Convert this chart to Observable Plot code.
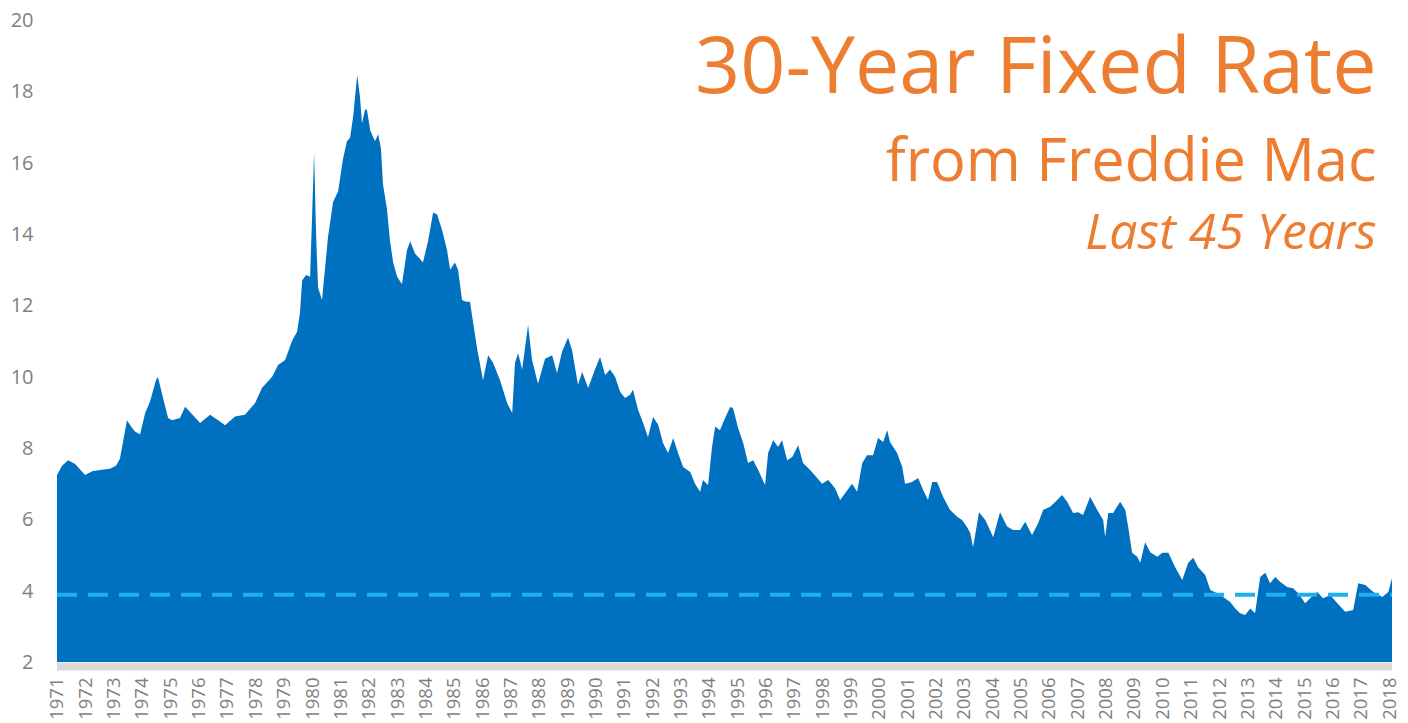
<!DOCTYPE html>
<html>
<head>
<meta charset="utf-8">
<script src="https://cdn.jsdelivr.net/npm/d3@7"></script>
<script src="https://cdn.jsdelivr.net/npm/@observablehq/plot@0.6"></script>
<style>
  html, body { margin: 0; padding: 0; background: #ffffff; }
  #chart svg { display: block; }
</style>
</head>
<body>
<div id="chart"></div>
<script>
// Axis positions in years (label year Y sits at position Y)
const years = [
  1971.00, 1971.18, 1971.39, 1971.64, 1971.99, 1972.24, 1972.52, 1972.87, 1973.08, 1973.22,
  1973.47, 1973.61, 1973.75, 1973.93, 1974.11, 1974.28, 1974.49, 1974.56, 1974.71, 1974.92,
  1975.06, 1975.34, 1975.52, 1975.80, 1976.05, 1976.40, 1976.75, 1976.93, 1977.28, 1977.63,
  1977.99, 1978.23, 1978.59, 1978.80, 1979.05, 1979.29, 1979.47, 1979.57, 1979.65, 1979.79,
  1979.93, 1980.00, 1980.07, 1980.14, 1980.21, 1980.35, 1980.56, 1980.74, 1980.92, 1981.09,
  1981.23, 1981.34, 1981.45, 1981.59, 1981.69, 1981.76, 1981.87, 1981.94, 1982.05, 1982.22,
  1982.33, 1982.43, 1982.50, 1982.64, 1982.75, 1982.86, 1983.00, 1983.17, 1983.35, 1983.46,
  1983.63, 1983.81, 1983.91, 1984.09, 1984.27, 1984.41, 1984.59, 1984.76, 1984.87, 1985.04,
  1985.15, 1985.29, 1985.43, 1985.57, 1985.82, 1986.03, 1986.21, 1986.38, 1986.63, 1986.88,
  1987.06, 1987.16, 1987.27, 1987.41, 1987.62, 1987.76, 1987.97, 1988.22, 1988.47, 1988.64,
  1988.82, 1989.03, 1989.17, 1989.38, 1989.53, 1989.74, 1989.98, 1990.16, 1990.34, 1990.51,
  1990.69, 1990.87, 1991.04, 1991.22, 1991.32, 1991.50, 1991.68, 1991.85, 1992.03, 1992.21,
  1992.38, 1992.56, 1992.74, 1992.91, 1993.09, 1993.34, 1993.51, 1993.69, 1993.79, 1993.97,
  1994.11, 1994.22, 1994.39, 1994.57, 1994.75, 1994.85, 1995.03, 1995.21, 1995.38, 1995.56,
  1995.74, 1995.98, 1996.09, 1996.27, 1996.44, 1996.58, 1996.76, 1996.94, 1997.15, 1997.32,
  1997.57, 1997.82, 1997.99, 1998.21, 1998.45, 1998.63, 1998.81, 1999.05, 1999.23, 1999.41,
  1999.58, 1999.79, 1999.97, 2000.15, 2000.29, 2000.39, 2000.64, 2000.82, 2000.92, 2001.17,
  2001.38, 2001.56, 2001.73, 2001.88, 2002.05, 2002.26, 2002.51, 2002.76, 2002.93, 2003.11,
  2003.22, 2003.32, 2003.53, 2003.75, 2004.03, 2004.27, 2004.52, 2004.73, 2004.98, 2005.16,
  2005.40, 2005.62, 2005.79, 2006.04, 2006.29, 2006.46, 2006.64, 2006.85, 2007.03, 2007.20,
  2007.45, 2007.70, 2007.91, 2007.98, 2008.09, 2008.26, 2008.51, 2008.69, 2008.79, 2008.93,
  2009.11, 2009.22, 2009.39, 2009.57, 2009.82, 2010.00, 2010.21, 2010.45, 2010.70, 2010.91,
  2011.09, 2011.26, 2011.51, 2011.69, 2011.93, 2012.14, 2012.39, 2012.57, 2012.74, 2012.92,
  2013.10, 2013.27, 2013.45, 2013.63, 2013.80, 2013.98, 2014.16, 2014.40, 2014.61, 2014.79,
  2015.04, 2015.21, 2015.46, 2015.67, 2015.92, 2016.17, 2016.45, 2016.73, 2016.91, 2017.16,
  2017.44, 2017.76, 2017.97, 2018.10
];

// 30-year fixed rate (%)
const rates = [
  7.24, 7.50, 7.66, 7.55, 7.24, 7.35, 7.38, 7.42, 7.50, 7.70,
  8.78, 8.60, 8.46, 8.38, 8.98, 9.30, 9.90, 10.00, 9.50, 8.84,
  8.78, 8.84, 9.16, 8.92, 8.70, 8.93, 8.74, 8.64, 8.88, 8.93,
  9.26, 9.68, 10.00, 10.33, 10.47, 11.00, 11.26, 11.78, 12.70, 12.85,
  12.80, 14.50, 16.27, 14.00, 12.50, 12.15, 13.90, 14.90, 15.20, 16.10,
  16.60, 16.70, 17.30, 18.46, 17.84, 17.10, 17.50, 17.47, 16.90, 16.60,
  16.80, 16.40, 15.40, 14.70, 13.80, 13.20, 12.80, 12.60, 13.55, 13.80,
  13.45, 13.30, 13.20, 13.80, 14.60, 14.55, 14.10, 13.55, 13.00, 13.20,
  13.00, 12.15, 12.10, 12.10, 10.80, 9.90, 10.60, 10.40, 9.90, 9.26,
  8.98, 10.40, 10.66, 10.20, 11.45, 10.47, 9.80, 10.50, 10.60, 10.10,
  10.70, 11.10, 10.75, 9.77, 10.13, 9.68, 10.20, 10.55, 10.05, 10.20,
  10.00, 9.57, 9.40, 9.49, 9.63, 9.07, 8.70, 8.30, 8.87, 8.65,
  8.14, 7.86, 8.28, 7.86, 7.47, 7.33, 7.00, 6.77, 7.10, 6.96,
  8.03, 8.60, 8.50, 8.84, 9.15, 9.12, 8.56, 8.14, 7.58, 7.66,
  7.38, 6.96, 7.86, 8.22, 8.03, 8.22, 7.66, 7.75, 8.08, 7.58,
  7.38, 7.16, 7.00, 7.10, 6.87, 6.54, 6.74, 7.00, 6.77, 7.58,
  7.80, 7.80, 8.28, 8.17, 8.50, 8.17, 7.86, 7.47, 7.00, 7.05,
  7.16, 6.82, 6.54, 7.05, 7.05, 6.63, 6.26, 6.07, 5.98, 5.78,
  5.62, 5.22, 6.20, 5.98, 5.50, 6.20, 5.80, 5.70, 5.70, 5.93,
  5.56, 5.90, 6.26, 6.35, 6.54, 6.68, 6.49, 6.18, 6.20, 6.12,
  6.63, 6.26, 5.98, 5.50, 6.18, 6.18, 6.49, 6.26, 5.80, 5.06,
  4.95, 4.78, 5.36, 5.08, 4.95, 5.06, 5.06, 4.66, 4.30, 4.78,
  4.92, 4.66, 4.44, 4.02, 3.93, 3.82, 3.68, 3.50, 3.37, 3.32,
  3.50, 3.37, 4.38, 4.50, 4.21, 4.38, 4.24, 4.10, 4.07, 3.93,
  3.65, 3.79, 3.96, 3.79, 3.88, 3.65, 3.41, 3.46, 4.21, 4.16,
  3.96, 3.82, 3.96, 4.35
];

const tickYears = d3.range(1971, 2019);
const yTicks = [2, 4, 6, 8, 10, 12, 14, 16, 18, 20];
const averageRate = 3.9;
const titleLines = ["30-Year Fixed Rate", "from Freddie Mac", "Last 45 Years"];

const data = years.map((yr, i) => ({year: yr, rate: rates[i]}));

const orange = "#ED7D31";
const chart = Plot.plot({
  width: 1408,
  height: 723,
  marginLeft: 57,
  marginRight: 16,
  marginTop: 20,
  marginBottom: 61,
  style: {fontFamily: "'Open Sans', sans-serif", color: "#7f7f7f", background: "#ffffff"},
  x: {domain: [1971, 2018.1], ticks: tickYears, tickFormat: d => String(d)},
  y: {domain: [2, 20], ticks: yTicks},
  marks: [
    Plot.areaY(data, {x: "year", y1: 2, y2: "rate", fill: "#0070C0"}),
    Plot.ruleY([averageRate], {stroke: "#1EB0EE", strokeWidth: 4, strokeDasharray: "20,11"}),
    Plot.ruleY([2], {stroke: "#D9D9D9", strokeWidth: 8, dy: 4}),
    Plot.axisY({ticks: yTicks, tickSize: 0, tickPadding: 24, fontSize: 20, label: null}),
    Plot.axisX({ticks: tickYears, tickFormat: d => String(d), tickRotate: -90, tickSize: 0, tickPadding: 15, fontSize: 18.5, label: null}),
    Plot.text([titleLines[0]], {text: d => d, frameAnchor: "top-right", dx: -16, dy: 72, lineAnchor: "bottom", fontSize: 79, fill: orange, textAnchor: "end"}),
    Plot.text([titleLines[1]], {text: d => d, frameAnchor: "top-right", dx: -16, dy: 160, lineAnchor: "bottom", fontSize: 59.5, fill: orange, textAnchor: "end"}),
    Plot.text([titleLines[2]], {text: d => d, frameAnchor: "top-right", dx: -16, dy: 228, lineAnchor: "bottom", fontSize: 50, fontStyle: "italic", fill: orange, textAnchor: "end"})
  ]
});
document.getElementById("chart").appendChild(chart);
</script>
</body>
</html>
